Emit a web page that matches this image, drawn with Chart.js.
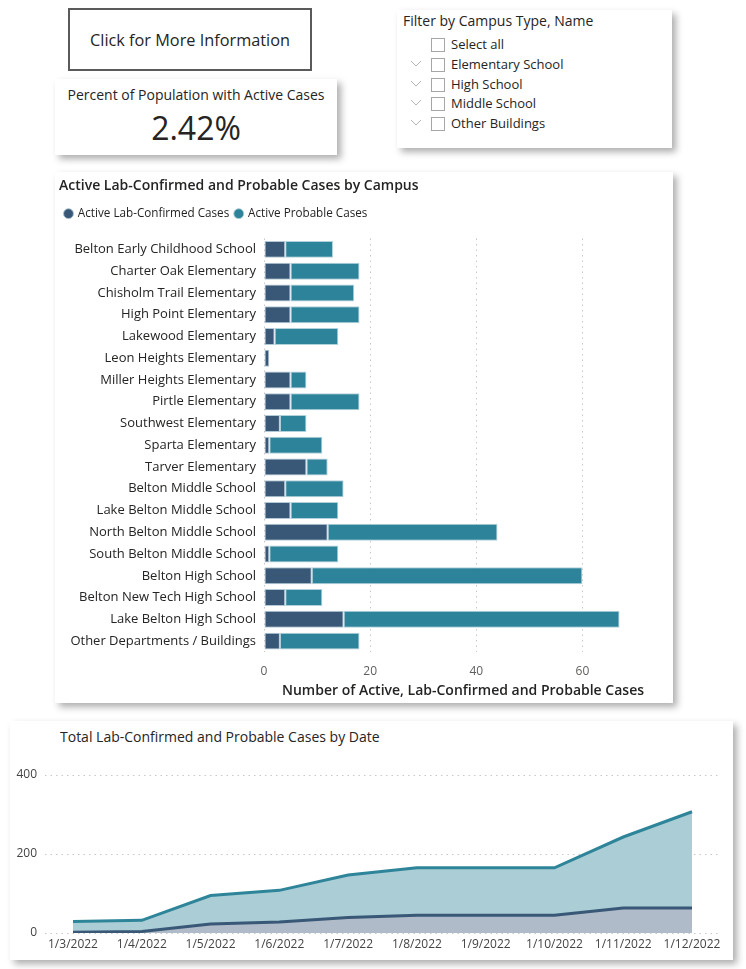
<!DOCTYPE html>
<html><head><meta charset="utf-8">
<script src="https://cdn.jsdelivr.net/npm/chart.js@4"></script>
<style>
html,body{margin:0;padding:0;background:#fff;width:746px;height:969px;overflow:hidden;font-family:'Open Sans',sans-serif;color:#252423;}
.abs{position:absolute;white-space:nowrap;}
.card{position:absolute;background:#fff;box-shadow:4px 4px 7px rgba(0,0,0,0.32);}
.chk{position:absolute;width:12px;height:12px;border:1px solid #a6a6a6;background:#fff;}
.row{position:absolute;font-size:13px;line-height:18px;}
.chev{position:absolute;}
</style></head>
<body>
<div class="abs" style="left:68px;top:8px;width:240px;height:58px;border:2px solid #5a5a5a;display:flex;align-items:center;justify-content:center;font-size:16.3px;padding-top:1px;box-sizing:content-box;">Click for More Information</div>

<div class="card" style="left:55px;top:79px;width:282px;height:76px;">
  <div class="abs" style="left:0;width:282px;top:7px;text-align:center;font-size:14px;line-height:18px;">Percent of Population with Active Cases</div>
  <div class="abs" style="left:0;width:282px;top:29px;text-align:center;font-size:32px;line-height:40px;font-weight:500;">2.42%</div>
</div>

<div class="card" id="slicer" style="left:397px;top:10px;width:275px;height:138px;">
  <div class="abs" style="left:6px;top:2px;font-size:14px;line-height:18px;">Filter by Campus Type, Name</div>
</div>

<div class="card" style="left:55px;top:172px;width:618px;height:531px;">
  <canvas id="bar" width="618" height="531" style="position:absolute;left:0;top:0;"></canvas>
</div>

<div class="card" style="left:10px;top:721px;width:723px;height:239px;">
  <div class="abs" style="left:50px;top:7px;font-size:14px;line-height:18px;">Total Lab-Confirmed and Probable Cases by Date</div>
  <canvas id="area" width="723" height="203" style="position:absolute;left:0;top:34px;"></canvas>
</div>

<script>
// ---- data ----
const slicerItems = ['Select all','Elementary School','High School','Middle School','Other Buildings'];
const campuses = ['Belton Early Childhood School','Charter Oak Elementary','Chisholm Trail Elementary','High Point Elementary','Lakewood Elementary','Leon Heights Elementary','Miller Heights Elementary','Pirtle Elementary','Southwest Elementary','Sparta Elementary','Tarver Elementary','Belton Middle School','Lake Belton Middle School','North Belton Middle School','South Belton Middle School','Belton High School','Belton New Tech High School','Lake Belton High School','Other Departments / Buildings'];
const labConfirmed = [4,5,5,5,2,1,5,5,3,1,8,4,5,12,1,9,4,15,3];
const probable     = [9,13,12,13,12,0,3,13,5,10,4,11,9,32,13,51,7,52,15];
const dates = ['1/3/2022','1/4/2022','1/5/2022','1/6/2022','1/7/2022','1/8/2022','1/9/2022','1/10/2022','1/11/2022','1/12/2022'];
const totalLab      = [2,4,23,28,39,45,45,45,63,63];
const totalProbable = [27,28,72,80,108,120,120,120,180,244];
const barTicks = [0,20,40,60];
const areaTicks = [0,200,400];

const F = "'Open Sans', sans-serif";

// slicer rows
const sl = document.getElementById('slicer');
slicerItems.forEach((t,i)=>{
  const top = 34 + i*19.75;
  const c = document.createElement('div'); c.className='chk';
  c.style.left='34px'; c.style.top=(top-6)+'px'; sl.appendChild(c);
  const r = document.createElement('div'); r.className='row';
  r.style.left='54px'; r.style.top=(top-9)+'px'; r.textContent=t; sl.appendChild(r);
  if(i>0){
    const ns='http://www.w3.org/2000/svg';
    const s=document.createElementNS(ns,'svg'); s.setAttribute('width','12'); s.setAttribute('height','8');
    s.setAttribute('class','chev'); s.style.left='13px'; s.style.top=(top-4)+'px';
    const p=document.createElementNS(ns,'polyline'); p.setAttribute('points','1,1 6,6 11,1');
    p.setAttribute('fill','none'); p.setAttribute('stroke','#b5b5b5'); p.setAttribute('stroke-width','1');
    s.appendChild(p); sl.appendChild(s);
  }
});

// adds spacing below the legend
const legendGap = {
  id:'legendGap',
  afterInit(chart){
    const l = chart.legend; if(!l) return;
    const orig = l.fit.bind(l);
    l.fit = function(){ orig(); this.height += 9; };
  }
};

// ---- bar chart ----
new Chart(document.getElementById('bar'), {
  type:'bar',
  plugins:[legendGap],
  data:{labels:campuses, datasets:[
    {label:'Active Lab-Confirmed Cases', data:labConfirmed, backgroundColor:'#395877', borderColor:'rgba(170,195,210,0.9)', borderWidth:1, borderSkipped:false},
    {label:'Active Probable Cases', data:probable, backgroundColor:'#2D8399', borderColor:'rgba(170,205,215,0.9)', borderWidth:1, borderSkipped:false}
  ]},
  options:{
    indexAxis:'y', responsive:false, animation:false, devicePixelRatio:1,
    layout:{padding:{left:4,right:11,top:0,bottom:4}},
    datasets:{bar:{categoryPercentage:1, barPercentage:0.78}},
    plugins:{
      title:{display:true,text:'Active Lab-Confirmed and Probable Cases by Campus',align:'start',color:'#252423',font:{size:14,weight:'600',family:F},padding:{top:6,bottom:7}},
      legend:{display:true,align:'start',labels:{usePointStyle:true,pointStyle:'circle',boxWidth:7,boxHeight:7,font:{size:11.7,family:F},color:'#252423',padding:6}},
      tooltip:{enabled:false}
    },
    scales:{
      x:{stacked:true,min:0,max:75,
        afterBuildTicks:s=>{s.ticks=barTicks.map(v=>({value:v}));},
        afterFit:s=>{s.height=47;},
        ticks:{color:'#605E5C',font:{size:12,family:F},padding:12},
        grid:{color:'#c8c8c8',drawTicks:false,lineWidth:1},
        border:{display:false,dash:[1.5,4]},
        title:{display:true,text:'Number of Active, Lab-Confirmed and Probable Cases',color:'#252423',font:{size:14,weight:'600',family:F},padding:{top:0,bottom:0}}
      },
      y:{stacked:true,
        afterFit:s=>{s.width=205;},
        ticks:{color:'#252423',font:{size:13,family:F},padding:8},
        grid:{display:false,drawTicks:false},border:{display:false}
      }
    }
  }
});

// ---- area chart ----
new Chart(document.getElementById('area'), {
  type:'line',
  data:{datasets:[
    {label:'Lab-Confirmed', data: totalLab.map((v,i)=>({x:i,y:v})), borderColor:'#395877', backgroundColor:'#AFBBC8', fill:'origin', borderWidth:3, pointRadius:0, tension:0},
    {label:'Probable', data: totalProbable.map((v,i)=>({x:i,y:v})), borderColor:'#2E8599', backgroundColor:'#ABCDD6', fill:'-1', borderWidth:3, pointRadius:0, tension:0}
  ]},
  options:{
    responsive:false, animation:false, devicePixelRatio:1,
    layout:{padding:{left:0,right:13,top:20,bottom:2}},
    plugins:{legend:{display:false},tooltip:{enabled:false}},
    scales:{
      x:{type:'linear',min:-0.407,max:9.407,
        afterBuildTicks:s=>{s.ticks=dates.map((d,i)=>({value:i}));},
        afterFit:s=>{s.height=23;},
        ticks:{autoSkip:false,maxRotation:0,color:'#444',font:{size:12,family:F},padding:4,callback:v=>dates[v]},
        grid:{display:false,drawTicks:false},border:{display:false}
      },
      y:{stacked:true,min:0,max:400,
        afterBuildTicks:s=>{s.ticks=areaTicks.map(v=>({value:v}));},
        afterFit:s=>{s.width=35;},
        ticks:{color:'#444',font:{size:12,family:F},padding:8},
        grid:{color:'#c8c8c8',drawTicks:false},
        border:{display:false,dash:[1.5,4]}
      }
    }
  }
});
</script>
</body></html>
